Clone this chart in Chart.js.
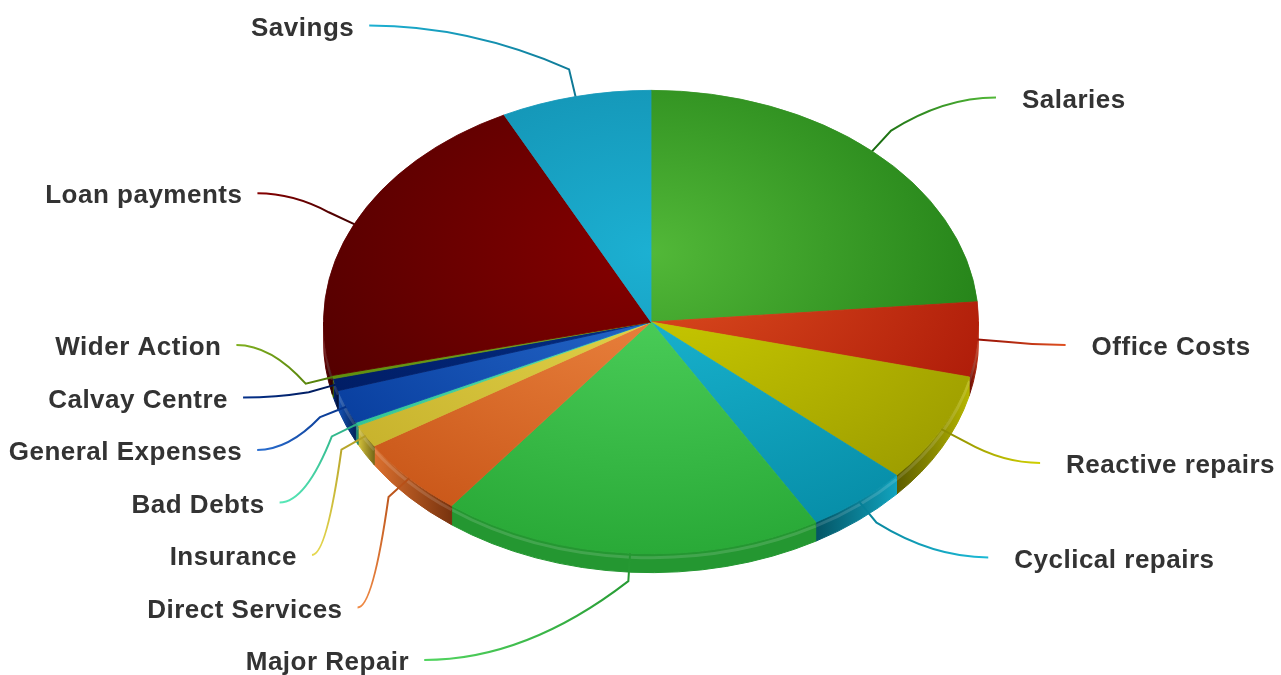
<!DOCTYPE html>
<html>
<head>
<meta charset="utf-8">
<title>Expenditure</title>
<style>
  html, body { margin: 0; padding: 0; background: #fff; }
  #wrap { width: 1281px; height: 675px; }
</style>
<script src="https://cdn.jsdelivr.net/npm/chart.js@4.4.0/dist/chart.umd.min.js"></script>
</head>
<body>
<div id="wrap"><canvas id="chart" width="1281" height="675"></canvas></div>
<script>
/* Expenditure pie — Chart.js draws the flat pie, a plugin tilts it and adds the rim + labels */
const labels = ["Salaries", "Office Costs", "Reactive repairs", "Cyclical repairs", "Major Repair",
  "Direct Services", "Insurance", "Bad Debts", "General Expenses", "Calvay Centre", "Wider Action",
  "Loan payments", "Savings"];
const shares = [23.6, 5.2, 7.7, 5.1, 18.8, 5.6, 1.6, 0.24, 2.35, 0.86, 0.22, 21.3, 7.4];

const lightColors = ["#52b838", "#e05020", "#d0d000", "#1cbad6", "#52d560", "#f08a45", "#e6d850",
  "#58e8b8", "#2a6ed0", "#04308a", "#80b020", "#860000", "#1cb0d2"];
const darkColors = ["#187410", "#a51205", "#999900", "#068ca6", "#28a836", "#c85517", "#c4ae28",
  "#2cbf90", "#043898", "#001a5e", "#588808", "#4a0000", "#0f84a4"];

/* ── geometry / style knobs ── */
const TILT = 232 / 328;     // vertical squash of the disc
const DEPTH = 19;           // rim thickness
const SHIFT_Y = -15;        // disc centre moved up after squash
const LABEL_Y = 0.93;       // natural label height, fraction of radius
const LABEL_RX = 1.268, LABEL_RY = 1.232;
const GAP = 52.5, TOP = 25, BOTTOM = 15;

/* ── colour helpers ── */
function rgb(hex) {
  const n = parseInt(hex.slice(1), 16);
  return [n >> 16, (n >> 8) & 255, n & 255];
}
function shade(hex, f) {
  const c = rgb(hex), t = f < 0 ? 0 : 255, p = Math.abs(f);
  return "rgb(" + c.map(v => Math.round((t - v) * p + v)).join(",") + ")";
}
function mix(a, b) {
  const x = rgb(a), y = rgb(b);
  return "rgb(" + x.map((v, i) => Math.round((v + y[i]) / 2)).join(",") + ")";
}

function faceFill(c) {
  const area = c.chart.chartArea, i = c.dataIndex;
  if (!area) return darkColors[i];
  const cx = (area.left + area.right) / 2, cy = (area.top + area.bottom) / 2;
  const r = Math.min(area.width, area.height) / 2;
  const g = c.chart.ctx.createRadialGradient(cx, cy - r * 0.3, 0, cx, cy - r * 0.3, r * 1.35);
  g.addColorStop(0, lightColors[i]);
  g.addColorStop(1, darkColors[i]);
  return g;
}

function geom(chart) {
  const el = chart.getDatasetMeta(0).data[0];
  return { cx: el.x, y0: el.y, cy: el.y + SHIFT_Y, r: el.outerRadius, ry: el.outerRadius * TILT };
}

/* ── rim (only the front half shows) ── */
function drawSides(chart, g) {
  const ctx = chart.ctx, half = Math.PI / 2;
  chart.getDatasetMeta(0).data.forEach((arc, i) => {
    const a1 = Math.max(arc.startAngle, 0), a2 = Math.min(arc.endAngle, Math.PI);
    if (a2 <= a1) return;
    const front = a1 < half && a2 > half;
    const base = front ? shade(darkColors[i], -0.1) : mix(lightColors[i], darkColors[i]);
    const deep = shade(darkColors[i], -0.4);
    const x1 = g.cx + g.r * Math.cos(a1), x2 = g.cx + g.r * Math.cos(a2);
    let fill = base;
    if (Math.abs(x2 - x1) > 1 && !front) {
      fill = ctx.createLinearGradient(x1, 0, x2, 0);
      const nearStart = Math.abs(a1 - half) < Math.abs(a2 - half);
      fill.addColorStop(0, nearStart ? deep : base);
      fill.addColorStop(1, nearStart ? base : deep);
    }
    ctx.beginPath();
    ctx.ellipse(g.cx, g.cy, g.r, g.ry, 0, a1, a2);
    ctx.ellipse(g.cx, g.cy + DEPTH, g.r, g.ry, 0, a2, a1, true);
    ctx.closePath();
    ctx.fillStyle = fill;
    ctx.strokeStyle = fill;
    ctx.lineWidth = 1;
    ctx.fill();
    ctx.stroke();
    // soft highlight just under the top edge
    ctx.beginPath();
    ctx.ellipse(g.cx, g.cy + 4, g.r, g.ry, 0, a1, a2);
    ctx.strokeStyle = "rgba(255,255,255,0.14)";
    ctx.lineWidth = 3;
    ctx.stroke();
  });
}

/* ── labels with curved leader lines ── */
function drawLabels(chart, g) {
  const ctx = chart.ctx, H = chart.height;
  const items = chart.getDatasetMeta(0).data.map((arc, i) => {
    const m = (arc.startAngle + arc.endAngle) / 2;
    return { i, m, left: Math.cos(m) < 0, y: g.cy + g.r * LABEL_Y * Math.sin(m) };
  });
  [true, false].forEach(side => {
    const list = items.filter(d => d.left === side).sort((a, b) => a.y - b.y);
    for (let k = 0; k < list.length; k++)
      list[k].y = Math.max(list[k].y, k ? list[k - 1].y + GAP : TOP);
    for (let k = list.length - 1; k >= 0; k--)
      list[k].y = Math.min(list[k].y, k < list.length - 1 ? list[k + 1].y - GAP : H - BOTTOM);
  });

  const RX = g.r * LABEL_RX, RY = g.r * LABEL_RY;
  ctx.save();
  items.forEach(d => {
    const cos = Math.cos(d.m), sin = Math.sin(d.m);
    const ax = g.cx + g.r * cos, ay = g.cy + g.ry * sin;
    const bx = ax + 28 * cos, by = ay + 28 * sin;
    const t = (d.y - g.cy) / RY;
    const ex = g.cx + (d.left ? -1 : 1) * RX * Math.sqrt(Math.max(0, 1 - t * t));
    const grad = ctx.createLinearGradient(ax, ay, ex, d.y);
    grad.addColorStop(0, shade(darkColors[d.i], -0.1));
    grad.addColorStop(1, lightColors[d.i]);
    ctx.beginPath();
    ctx.moveTo(ax, ay);
    ctx.lineTo(bx, by);
    ctx.quadraticCurveTo(bx + (ex - bx) * 0.5, d.y, ex, d.y);
    ctx.strokeStyle = grad;
    ctx.lineWidth = 2;
    ctx.stroke();

    ctx.font = '700 26px "Liberation Sans", Arial, sans-serif';
    ctx.letterSpacing = "0.5px";
    ctx.textBaseline = "middle";
    ctx.textAlign = d.left ? "right" : "left";
    ctx.fillStyle = "#333333";
    ctx.fillText(labels[d.i], d.left ? ex - 15 : ex + 26, d.y + 3);
  });
  ctx.restore();
}

const tiltPlugin = {
  id: "tilt",
  beforeDatasetsDraw(chart) {
    const ctx = chart.ctx, g = geom(chart);
    drawSides(chart, g);
    ctx.save();
    ctx.translate(g.cx, g.cy);
    ctx.scale(1, TILT);
    ctx.translate(-g.cx, -g.y0);
  },
  afterDatasetsDraw(chart) {
    chart.ctx.restore();
    drawLabels(chart, geom(chart));
  }
};

new Chart(document.getElementById("chart"), {
  type: "pie",
  data: {
    labels: labels,
    datasets: [{
      data: shares,
      backgroundColor: faceFill,
      borderColor: faceFill,
      borderWidth: 1
    }]
  },
  options: {
    responsive: false,
    animation: false,
    events: [],
    layout: { padding: { left: 322, right: 301, top: 9, bottom: 10 } },
    plugins: { legend: { display: false }, tooltip: { enabled: false }, title: { display: false } }
  },
  plugins: [tiltPlugin]
});
</script>
</body>
</html>
